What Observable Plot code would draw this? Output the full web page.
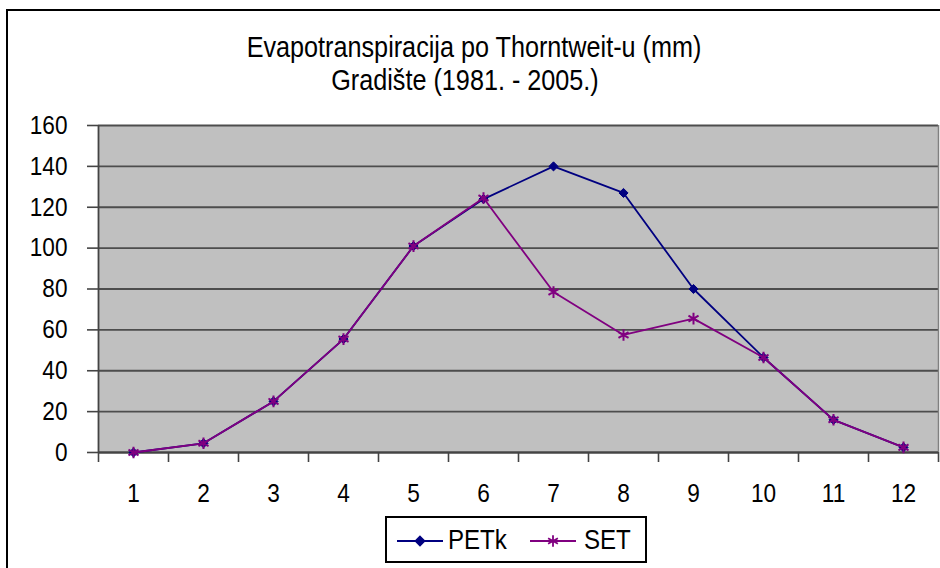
<!DOCTYPE html>
<html>
<head>
<meta charset="utf-8">
<script src="https://cdn.jsdelivr.net/npm/d3@7"></script>
<script src="https://cdn.jsdelivr.net/npm/@observablehq/plot@0.6"></script>
<style>
  html, body { margin: 0; padding: 0; background: #fff; }
  body { width: 940px; height: 568px; overflow: hidden; position: relative;
         font-family: "Liberation Sans", Arial, sans-serif; color: #000; }
  #frame { position: absolute; left: 6px; top: 9px; width: 1200px; height: 1200px;
           border-left: 2px solid #000; border-top: 2px solid #000; pointer-events: none; }
  #titles { position: relative; height: 100px; box-sizing: border-box; padding-top: 30px;
            text-align: center; font-size: 30px; line-height: 33px; }
  #titles .t { display: block; transform: scaleX(0.84); transform-origin: center; white-space: nowrap; }
  #titles .t1 { position: relative; left: 4px; }
  #titles .t2 { position: relative; left: -5px; }
  #chart svg { display: block; }
  #legendWrap { position: relative; height: 58px; }
  #legend { position: absolute; left: 385px; top: 6px; width: 262px; height: 47px; box-sizing: border-box;
            border: 2px solid #000; background: #fff; }
  #legend .sw { position: absolute; top: 8px; }
  #legend .lb { position: absolute; top: 8px; font-size: 28px; line-height: 28px; transform: scaleX(0.86); transform-origin: left center; white-space: nowrap; }
</style>
</head>
<body>
<div id="frame"></div>
<div id="titles">
  <div class="t t1">Evapotranspiracija po Thorntweit-u (mm)</div>
  <div class="t t2">Gradište (1981. - 2005.)</div>
</div>
<div id="chart"></div>
<div id="legendWrap"><div id="legend"></div></div>
<script>
// ---- data ----
const months = [1, 2, 3, 4, 5, 6, 7, 8, 9, 10, 11, 12];
const petk   = [0, 4.5, 25, 55.5, 101, 124, 140, 127, 80, 46.5, 16, 2.5];
const set    = [0, 4.5, 25, 55.5, 101, 124.5, 78.5, 57.5, 65.5, 46.5, 16, 2.5];
const yTicks = [0, 20, 40, 60, 80, 100, 120, 140, 160];
const seriesNames = ["PETk", "SET"];

const colPETk = "#000080";
const colSET = "#800080";
const bandEdges = d3.range(0.5, 12.6, 1);

const chart = Plot.plot({
  width: 940,
  height: 410,
  marginTop: 25,
  marginBottom: 58,
  marginLeft: 98,
  marginRight: 2,
  style: { fontFamily: '"Liberation Sans", Arial, sans-serif', fontSize: "26px", color: "#000", background: "transparent" },
  x: { domain: [0.5, 12.5] },
  y: { domain: [0, 160] },
  marks: [
    Plot.frame({ fill: "#c0c0c0", stroke: null }),
    Plot.ruleY(yTicks, { stroke: "#4d4d4d", strokeWidth: 1.9 }),
    Plot.ruleX([12.5], { stroke: "#808080", strokeWidth: 1.5 }),
    Plot.ruleX([0.5], { stroke: "#444", strokeWidth: 1.8 }),
    Plot.ruleY([0], { stroke: "#444", strokeWidth: 1.8 }),
    Plot.axisY({ ticks: yTicks, tickSize: 11, tickPadding: 20, stroke: "#444", strokeWidth: 1.6, label: null, tickFormat: d => String(d) }),
    Plot.axisX({ ticks: bandEdges, tickSize: 10, tickFormat: () => "", stroke: "#444", strokeWidth: 1.6, label: null }),
    Plot.axisX({ ticks: months, tickSize: 0, tickPadding: 31, label: null, tickFormat: d => String(d) }),
    Plot.line(petk, { x: months, y: petk, stroke: colPETk, strokeWidth: 1.8 }),
    Plot.dot(petk, { x: months, y: petk, symbol: "diamond2", r: 4.1, fill: colPETk, stroke: colPETk, strokeWidth: 1 }),
    Plot.line(set, { x: months, y: set, stroke: colSET, strokeWidth: 1.8 }),
    Plot.dot(set, { x: months, y: set, symbol: "asterisk", r: 5.5, stroke: colSET, strokeWidth: 2 })
  ]
});
// condense tick labels horizontally (reference uses a narrow face)
d3.select(chart).selectAll('g[aria-label="y-axis tick label"] text, g[aria-label="x-axis tick label"] text')
  .attr("transform", function () { return (this.getAttribute("transform") || "") + " scale(0.87,1)"; });
document.getElementById("chart").append(chart);

// ---- legend ----
const legend = d3.select("#legend");
const items = [
  { name: seriesNames[0], color: colPETk, sym: d3.symbolDiamond2, fill: colPETk, size: 50, swx: 9, lbx: 61 },
  { name: seriesNames[1], color: colSET, sym: d3.symbolAsterisk, fill: "none", size: 90, swx: 142, lbx: 197 }
];
items.forEach(it => {
  const svg = legend.append("svg").attr("class", "sw").attr("width", 48).attr("height", 28)
    .style("left", it.swx + "px");
  svg.append("line").attr("x1", 1).attr("x2", 47).attr("y1", 15).attr("y2", 15)
    .attr("stroke", it.color).attr("stroke-width", 1.8);
  svg.append("path").attr("d", d3.symbol(it.sym, it.size)()).attr("transform", "translate(24,15)")
    .attr("fill", it.fill).attr("stroke", it.color).attr("stroke-width", 1.8);
  legend.append("div").attr("class", "lb").style("left", it.lbx + "px").text(it.name);
});
</script>
</body>
</html>
